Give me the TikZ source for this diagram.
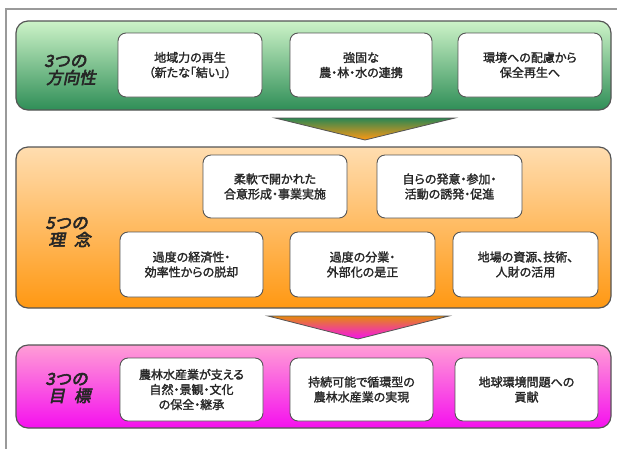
\documentclass[tikz,border=0pt]{standalone}
\usepackage{fontspec}
\newfontfamily\jpfont{Noto Sans CJK JP}[FakeBold=1.8,RawFeature={+palt}]
\newfontfamily\jplabel{Noto Sans CJK JP}[FakeBold=3.5,FakeSlant=0.2]
\usetikzlibrary{shadings}

\definecolor{frameGray}{HTML}{9A9A9A}
\definecolor{edgeGray}{HTML}{555555}
\definecolor{greenTop}{HTML}{CDF3C8}
\definecolor{greenBot}{HTML}{2F8E57}
\definecolor{orangeTop}{HTML}{FFDDB0}
\definecolor{orangeBot}{HTML}{FF9812}
\definecolor{pinkTop}{HTML}{FF9ED6}
\definecolor{pinkBot}{HTML}{F510EE}

\begin{document}
\begin{tikzpicture}[x=1pt,y=-1pt,
  band/.style={draw=edgeGray,line width=1.2pt,rounded corners=12pt,
    minimum width=595pt,inner sep=0pt},
  main box/.style={draw=edgeGray,line width=0.9pt,fill=white,rounded corners=8pt,
    align=center,inner sep=0pt,font=\jpfont\fontsize{12}{15}\selectfont,
    text=black!85},
  title/.style={align=left,font=\jplabel\fontsize{16.5}{17}\selectfont,text=black!85}]

  \useasboundingbox (0,0) rectangle (617,448);
  \draw[frameGray,line width=1.2pt] (6,460) -- (6,9) -- (630,9);

  % bands
  \node[band,minimum height=89pt,top color=greenTop,bottom color=greenBot] (dir) at (313.5,65.5){};
  \node[band,minimum height=161pt,top color=orangeTop,bottom color=orangeBot] (idea) at (313.5,227.5){};
  \node[band,minimum height=83pt,top color=pinkTop,bottom color=pinkBot] (goal) at (313.5,386.5){};

  % arrows between the bands
  \coordinate (a1l) at (275,118);
  \coordinate (a1r) at (455,118);
  \coordinate (a1t) at (365,140);
  \coordinate (a2l) at (268,316);
  \coordinate (a2r) at (449,316);
  \coordinate (a2t) at (358,339);
  \shade[top color=greenBot!95!black,bottom color=orangeBot,draw=edgeGray,line width=0.8pt]
    (a1l) -- (a1r) -- (a1t) -- cycle;
  \shade[top color=orangeBot!90!black,bottom color=pinkBot,draw=edgeGray,line width=0.8pt]
    (a2l) -- (a2r) -- (a2t) -- cycle;

  % 3 directions
  \node[title] (dirT) at (70,70){3つの\\\hspace{2pt}方向性};
  \node[main box,minimum width=144pt,minimum height=64pt] (d1) at (190,65){地域力の再生\\（新たな「結い」）};
  \node[main box,minimum width=142pt,minimum height=64pt] (d2) at (361,65){強固な\\農・林・水の連携};
  \node[main box,minimum width=144pt,minimum height=64pt] (d3) at (530,65){環境への配慮から\\保全再生へ};

  % 5 ideas
  \node[title] (ideaT) at (68,232){5つの\\\hspace{3pt}理\hspace{9pt}念};
  \node[main box,minimum width=144pt,minimum height=63pt] (i1) at (275,186.5){柔軟で開かれた\\合意形成・事業実施};
  \node[main box,minimum width=145pt,minimum height=63pt] (i2) at (449.5,186.5){自らの発意・参加・\\活動の誘発・促進};
  \node[main box,minimum width=143pt,minimum height=65pt] (i3) at (191.5,264.5){過度の経済性・\\効率性からの脱却};
  \node[main box,minimum width=145pt,minimum height=65pt] (i4) at (362.5,264.5){過度の分業・\\外部化の是正};
  \node[main box,minimum width=145pt,minimum height=65pt] (i5) at (525.5,264.5){地場の資源、技術、\\人財の活用};

  % 3 goals
  \node[title] (goalT) at (68,388){3つの\\\hspace{3pt}目\hspace{9pt}標};
  \node[main box,minimum width=143pt,minimum height=63pt] (g1) at (191.5,389.5){農林水産業が支える\\自然・景観・文化\\の保全・継承};
  \node[main box,minimum width=143pt,minimum height=63pt] (g2) at (361.5,389.5){持続可能で循環型の\\農林水産業の実現};
  \node[main box,minimum width=143pt,minimum height=63pt] (g3) at (526.5,389.5){地球環境問題への\\貢献};
\end{tikzpicture}
\end{document}
